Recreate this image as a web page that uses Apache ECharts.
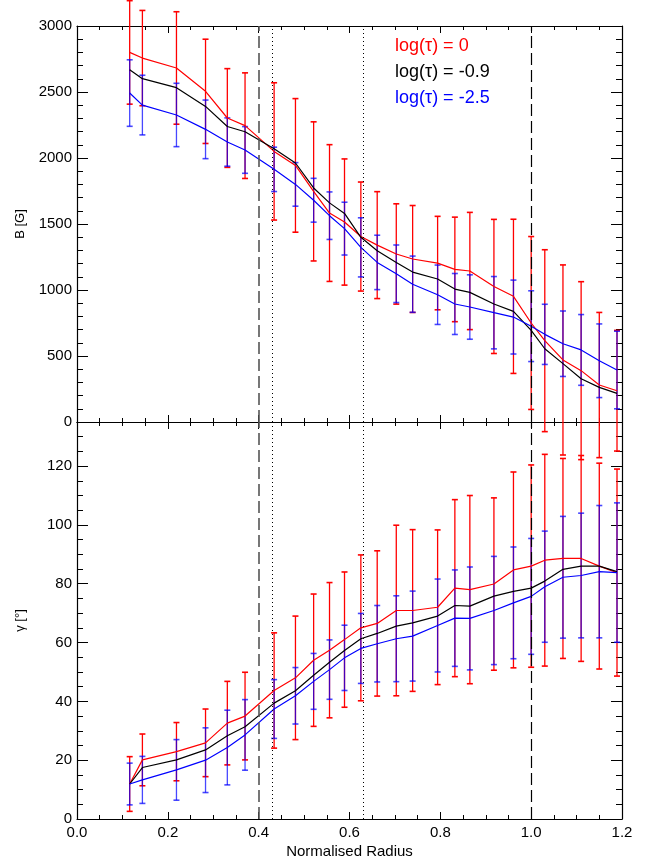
<!DOCTYPE html>
<html>
<head>
<meta charset="utf-8">
<title>B and gamma vs normalised radius</title>
<script src="https://cdn.jsdelivr.net/npm/echarts@6/dist/echarts.min.js"></script>
<style>
  html, body { margin: 0; padding: 0; background: #fff; }
  #chart { width: 657px; height: 861px; }
</style>
</head>
<body>
<div id="chart"></div>
<script>
// bin centres (normalised radius)
var radius = [0.116, 0.144, 0.219, 0.283, 0.331, 0.370, 0.434, 0.481, 0.521, 0.556, 0.589, 0.625, 0.661,
              0.703, 0.739, 0.794, 0.832, 0.865, 0.918, 0.961, 1.000, 1.030, 1.070, 1.110, 1.150, 1.189];

// field strength B [G]
var bRed    = [2800, 2757, 2682, 2505, 2303, 2245, 2050, 1944, 1747, 1583, 1515, 1405, 1340, 1273, 1235, 1204,
               1156, 1144, 1027, 952, 750, 616, 470, 389, 280, 237];
var bRedErr = [392, 361, 426, 395, 374, 400, 520, 506, 527, 518, 478, 413, 405, 380, 405, 354,
               396, 444, 508, 584, 655, 689, 720, 674, 550, 457];
var bBlack  = [2669, 2601, 2533, 2391, 2239, 2199, 2070, 1962, 1773, 1660, 1580, 1399, 1298, 1209, 1136, 1083,
               1007, 982, 894, 838, 694, 555, 442, 328, 262, 217];
var bBlue   = [2492, 2401, 2326, 2217, 2121, 2061, 1914, 1800, 1680, 1563, 1465, 1323, 1209, 1123, 1044, 964,
               894, 871, 828, 795, 726, 664, 593, 546, 464, 394];
var bBlueErr = [252, 226, 240, 222, 183, 177, 168, 165, 166, 180, 200, 224, 206, 218, 213, 225,
                231, 244, 274, 280, 268, 228, 248, 268, 279, 294];

// inclination gamma [deg]
var gRed    = [11.9, 20.1, 22.9, 25.9, 32.6, 35.0, 43.7, 48.0, 54.0, 57.4, 61.0, 65.0, 66.5, 70.9, 70.9, 72.0,
               78.5, 78.0, 79.9, 84.7, 86.0, 88.0, 88.6, 88.6, 86.0, 83.8];
var gRedErr = [9.3, 8.8, 9.9, 11.5, 14.2, 14.9, 19.6, 21.0, 22.5, 23.0, 23.0, 24.8, 24.7, 29.0, 27.5, 26.3,
               30.1, 32.0, 29.3, 33.3, 34.4, 36.0, 34.0, 35.0, 35.0, 35.2];
var gBlack  = [11.9, 17.5, 20.1, 23.5, 28.3, 31.4, 39.4, 43.6, 48.9, 53.3, 57.3, 61.3, 63.1, 65.6, 66.7, 69.0,
               72.6, 72.4, 75.8, 77.4, 78.5, 80.9, 84.9, 86.0, 86.0, 84.1];
var gBlue   = [11.9, 13.3, 16.7, 20.0, 24.3, 28.6, 37.4, 41.9, 46.8, 50.8, 54.8, 58.0, 59.6, 61.3, 62.2, 65.8,
               68.3, 68.2, 70.9, 73.5, 75.7, 79.0, 82.2, 82.8, 84.1, 83.8];
var gBlueErr = [7.1, 8.0, 10.3, 11.0, 12.7, 12.0, 10.0, 9.6, 9.5, 10.1, 11.1, 11.9, 13.0, 14.6, 15.3, 15.8,
                16.4, 17.5, 18.4, 19.0, 19.7, 18.9, 20.7, 21.2, 22.5, 23.7];

var depthLabels = ['log(τ) = 0', 'log(τ) = -0.9', 'log(τ) = -2.5'];
var dashedAt = [0.4, 1.0];
var dottedAt = [0.43, 0.63];

(function(){
    var chartDom = document.getElementById('chart');
    var myChart = echarts.init(chartDom);
    var font = 'Liberation Sans, Arial, Helvetica, sans-serif';
    var colors = ['#ff0000', '#000000', '#0000ff'];

    function pts(v) {
      return radius.map(function(x, i){ return [x, v[i]]; });
    }
    function bars(v, e) {
      return radius.map(function(x, i){ return [x, v[i] - e[i], v[i] + e[i]]; });
    }

    // vertical error bar with small caps
    function errItem(params, api) {
      var x = api.value(0);
      var lo = api.coord([x, api.value(1)]);
      var hi = api.coord([x, api.value(2)]);
      var c = api.visual('color');
      return {
        type: 'group',
        children: [
          {type: 'line', shape: {x1: lo[0], y1: lo[1], x2: hi[0], y2: hi[1]}, style: {stroke: c, lineWidth: 1.3}},
          {type: 'line', shape: {x1: lo[0] - 3, y1: lo[1], x2: lo[0] + 3, y2: lo[1]}, style: {stroke: c, lineWidth: 1.6}},
          {type: 'line', shape: {x1: hi[0] - 3, y1: hi[1], x2: hi[0] + 3, y2: hi[1]}, style: {stroke: c, lineWidth: 1.6}}
        ]
      };
    }

    function xAx(grid, pos, showLabel) {
      return {
        type: 'value', gridIndex: grid, position: pos,
        min: 0, max: 1.2, interval: 0.2,
        name: showLabel ? 'Normalised Radius' : '',
        nameLocation: 'middle', nameGap: 25,
        nameTextStyle: {color: '#000', fontSize: 15, fontFamily: font},
        axisLine: {onZero: false, lineStyle: {color: '#000', width: 1.2}},
        axisTick: {inside: true, length: 7, lineStyle: {color: '#000', width: 1}},
        minorTick: {show: true, splitNumber: 4, length: 4, lineStyle: {color: '#000', width: 1}},
        axisLabel: {show: showLabel, color: '#000', fontSize: 15, fontFamily: font, margin: 6,
                    formatter: function(v){ return v.toFixed(1); }},
        splitLine: {show: false}
      };
    }

    function yAx(grid, pos, opts) {
      var left = pos === 'left';
      return {
        type: 'value', gridIndex: grid, position: pos,
        min: 0, max: opts.max, interval: opts.interval,
        name: left ? (opts.name || '') : '',
        nameLocation: 'middle', nameGap: 50,
        nameTextStyle: {color: '#000', fontSize: 13, fontFamily: font},
        axisLine: {show: opts.line !== false, onZero: false, lineStyle: {color: '#000', width: 1.2}},
        axisTick: {inside: true, length: opts.tick, lineStyle: {color: '#000', width: 1}},
        minorTick: {show: !!opts.minor, splitNumber: opts.minor || 1, length: 6, lineStyle: {color: '#000', width: 1}},
        axisLabel: {show: left && opts.labels !== false, color: '#000', fontSize: 15, fontFamily: font,
                    margin: 5, showMaxLabel: opts.showMax !== false,
                    formatter: function(v){ return String(v); }},
        splitLine: {show: false}
      };
    }

    var refLines = dashedAt.map(function(v, i){
      return {xAxis: v, lineStyle: {type: [12, 5], color: i === 0 ? '#555' : '#000', width: i === 0 ? 1.6 : 1.2}};
    }).concat(dottedAt.map(function(v){
      return {xAxis: v, lineStyle: {type: [1, 3], color: '#000', width: 1}};
    }));

    function lineSeries(xi, yi, data, color, withRefs) {
      var s = {
        type: 'line', xAxisIndex: xi, yAxisIndex: yi, data: data,
        symbol: 'none', lineStyle: {color: color, width: 1.2}, itemStyle: {color: color}
      };
      if (withRefs) {
        s.markLine = {silent: true, symbol: 'none', label: {show: false}, data: refLines};
      }
      return s;
    }

    function errSeries(xi, yi, data, color) {
      return {type: 'custom', xAxisIndex: xi, yAxisIndex: yi, data: data, renderItem: errItem,
              itemStyle: {color: color}, clip: false};
    }

    var option = {
      animation: false,
      backgroundColor: '#fff',
      grid: [
        {left: 77, right: 35, top: 26, height: 396},
        {left: 77, right: 35, top: 422, height: 397}
      ],
      xAxis: [
        xAx(0, 'bottom', false),
        xAx(0, 'top', false),
        xAx(1, 'bottom', true),
        xAx(1, 'top', false)
      ],
      yAxis: [
        yAx(0, 'left', {max: 3000, interval: 500, tick: 11, minor: 5, name: 'B [G]'}),
        yAx(0, 'right', {max: 3000, interval: 500, tick: 11, minor: 5}),
        yAx(1, 'left', {max: 135, interval: 20, tick: 11, name: 'γ [°]', showMax: false}),
        yAx(1, 'right', {max: 135, interval: 20, tick: 11}),
        // minor ticks of the lower panel every 5 degrees
        yAx(1, 'left', {max: 135, interval: 5, tick: 6, labels: false, line: false}),
        yAx(1, 'right', {max: 135, interval: 5, tick: 6, labels: false, line: false})
      ],
      graphic: depthLabels.map(function(t, i){
        return {type: 'text', left: 395, top: 37 + i * 26.2,
                style: {text: t, fill: colors[i], font: '18px ' + font}};
      }),
      series: [
        errSeries(0, 0, bars(bRed, bRedErr), '#ff0000'),
        errSeries(0, 0, bars(bBlue, bBlueErr), 'rgba(0,0,255,0.72)'),
        errSeries(2, 2, bars(gRed, gRedErr), '#ff0000'),
        errSeries(2, 2, bars(gBlue, gBlueErr), 'rgba(0,0,255,0.72)'),
        lineSeries(0, 0, pts(bRed), colors[0], false),
        lineSeries(0, 0, pts(bBlack), colors[1], true),
        lineSeries(0, 0, pts(bBlue), colors[2], false),
        lineSeries(2, 2, pts(gRed), colors[0], false),
        lineSeries(2, 2, pts(gBlack), colors[1], true),
        lineSeries(2, 2, pts(gBlue), colors[2], false)
      ]
    };

    option && myChart.setOption(option);
})();
</script>
</body>
</html>
